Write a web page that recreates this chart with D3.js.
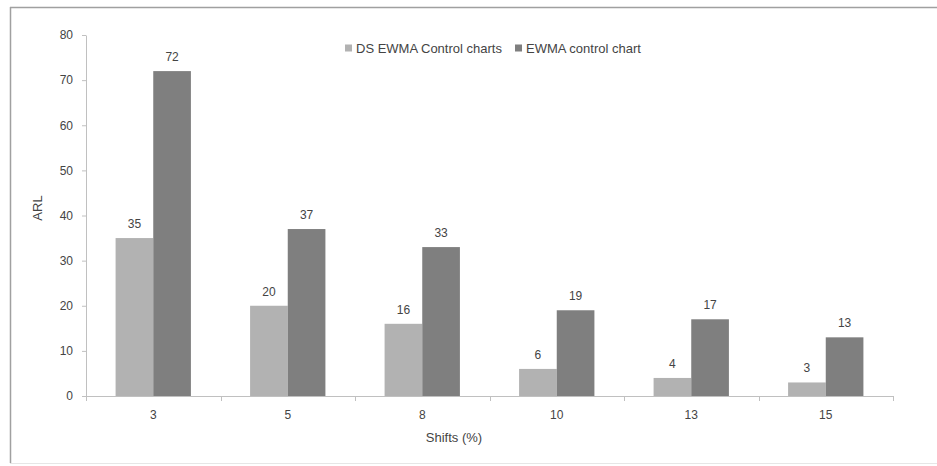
<!DOCTYPE html>
<html>
<head>
<meta charset="utf-8">
<script src="https://cdn.jsdelivr.net/npm/d3@7"></script>
<style>
  html, body { margin: 0; padding: 0; background: #fff; }
  svg { display: block; font-family: "Liberation Sans", Arial, sans-serif; }
</style>
</head>
<body>
<svg id="chart" width="937" height="466"></svg>
<script>
// Shift sizes (%) on the x axis
const shifts = ["3", "5", "8", "10", "13", "15"];
// Average run length for each chart type
const dsEwma = [35, 20, 16, 6, 4, 3];
const ewma = [72, 37, 33, 19, 17, 13];
const seriesNames = ["DS EWMA Control charts", "EWMA control chart"];
const seriesColors = ["#b2b2b2", "#7f7f7f"];
const yTicks = [0, 10, 20, 30, 40, 50, 60, 70, 80];

const svg = d3.select("#chart");
const W = 937, H = 466;

// outer frame
svg.append("line").attr("x1", 10).attr("x2", W).attr("y1", 7.5).attr("y2", 7.5)
  .attr("stroke", "#a0a0a0").attr("stroke-width", 1.5);
svg.append("line").attr("x1", 10.5).attr("x2", 10.5).attr("y1", 7).attr("y2", 463)
  .attr("stroke", "#a0a0a0").attr("stroke-width", 1.5);
svg.append("line").attr("x1", 10).attr("x2", W).attr("y1", 463.5).attr("y2", 463.5)
  .attr("stroke", "#e6e6e6").attr("stroke-width", 1);

const plot = { left: 86, right: 893, top: 35, bottom: 396 };

const x = d3.scaleBand().domain(shifts).range([plot.left, plot.right])
  .paddingInner(0.44).paddingOuter(0.22);
const xs = d3.scaleBand().domain([0, 1]).range([0, x.bandwidth()]);
const y = d3.scaleLinear().domain([0, 80]).range([plot.bottom, plot.top]);

const axisColor = "#c0c0c0";
const textColor = "#444444";

// y axis
const yAxis = svg.append("g").attr("transform", `translate(${plot.left},0)`)
  .call(d3.axisLeft(y).tickValues(yTicks).tickSize(4).tickPadding(9).tickSizeOuter(0));
yAxis.select(".domain").attr("stroke", axisColor);
yAxis.selectAll(".tick line").attr("stroke", axisColor);
yAxis.selectAll(".tick text").attr("fill", textColor).attr("font-size", 12)
  .attr("font-family", "Liberation Sans, Arial, sans-serif");

// x axis with ticks between categories
const step = x.step();
const xAxis = svg.append("g").attr("transform", `translate(0,${plot.bottom})`);
xAxis.append("line").attr("x1", plot.left).attr("x2", plot.right)
  .attr("y1", 0.5).attr("y2", 0.5).attr("stroke", axisColor);
d3.range(shifts.length + 1).forEach(i => {
  const px = Math.round(plot.left + i * step) + 0.5;
  xAxis.append("line").attr("x1", px).attr("x2", px).attr("y1", 0).attr("y2", 5)
    .attr("stroke", axisColor);
});
xAxis.selectAll("text.cat").data(shifts).join("text").attr("class", "cat")
  .attr("x", d => x(d) + x.bandwidth() / 2).attr("y", 23)
  .attr("text-anchor", "middle").attr("fill", textColor).attr("font-size", 12)
  .text(d => d);

// bars
const rows = shifts.map((s, i) => ({ s, vals: [dsEwma[i], ewma[i]] }));
const groups = svg.append("g").selectAll("g").data(rows).join("g")
  .attr("transform", d => `translate(${x(d.s)},0)`);
groups.selectAll("rect").data(d => d.vals.map((v, k) => ({ v, k }))).join("rect")
  .attr("x", d => xs(d.k)).attr("width", xs.bandwidth())
  .attr("y", d => y(d.v)).attr("height", d => y(0) - y(d.v))
  .attr("fill", d => seriesColors[d.k]);
groups.selectAll("text").data(d => d.vals.map((v, k) => ({ v, k }))).join("text")
  .attr("x", d => xs(d.k) + xs.bandwidth() / 2).attr("y", d => y(d.v) - 10)
  .attr("text-anchor", "middle").attr("fill", textColor).attr("font-size", 12)
  .text(d => d.v);

// axis titles
svg.append("text").attr("x", 454).attr("y", 442).attr("text-anchor", "middle")
  .attr("fill", textColor).attr("font-size", 13).text("Shifts  (%)");
svg.append("text").attr("transform", "translate(42,208) rotate(-90)")
  .attr("text-anchor", "middle").attr("fill", textColor).attr("font-size", 13).text("ARL");

// legend
const legendX = [345, 515];
const legend = svg.append("g").selectAll("g").data(seriesNames).join("g")
  .attr("transform", (d, i) => `translate(${legendX[i]},48)`);
legend.append("rect").attr("x", 0).attr("y", -3.5).attr("width", 7).attr("height", 7)
  .attr("fill", (d, i) => seriesColors[i]);
legend.append("text").attr("x", 11).attr("y", 4.5).attr("fill", textColor)
  .attr("font-size", 13).text(d => d);
</script>
</body>
</html>
